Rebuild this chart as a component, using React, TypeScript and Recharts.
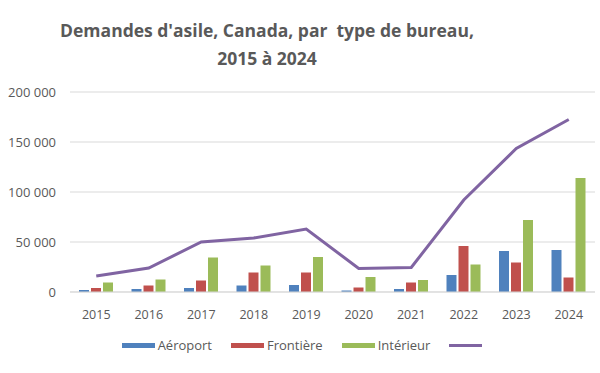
import React from "react";
import {
  ComposedChart,
  Bar,
  Line,
  XAxis,
  YAxis,
  CartesianGrid,
  Legend,
} from "recharts";

// Demandes d'asile par type de bureau
const years = ["2015", "2016", "2017", "2018", "2019", "2020", "2021", "2022", "2023", "2024"];
const aeroport = [2000, 3000, 4000, 6500, 7000, 1500, 3000, 17000, 41000, 42000];
const frontiere = [4000, 6500, 11500, 19500, 19500, 4500, 9500, 46000, 29500, 14500];
const interieur = [9500, 12500, 34500, 26500, 35000, 15000, 12000, 27500, 72000, 114000];
const total = [16000, 24000, 50000, 54000, 63000, 23500, 24500, 92000, 143500, 172500];
const yTicks = [0, 50000, 100000, 150000, 200000];

const data = years.map((year, i) => ({
  year,
  aeroport: aeroport[i],
  frontiere: frontiere[i],
  interieur: interieur[i],
  total: total[i],
}));

const GRAY = "#595959";
const FONT = "'Open Sans', sans-serif";

const fmt = (v: number) => String(v).replace(/\B(?=(\d{3})+(?!\d))/g, " ");

const legendItems = [
  { label: "Aéroport", color: "#4F81BD", type: "rect" },
  { label: "Frontière", color: "#C0504D", type: "rect" },
  { label: "Intérieur", color: "#9BBB59", type: "rect" },
  { label: "", color: "#8064A2", type: "line" },
];

function ChartLegend() {
  return (
    <div style={{ display: "flex", justifyContent: "center", alignItems: "center", paddingLeft: 26, fontFamily: FONT, fontSize: 13, color: GRAY }}>
      {legendItems.map((it) => (
        <div key={it.color} style={{ display: "flex", alignItems: "center", marginRight: 19 }}>
          <span
            style={{
              display: "inline-block",
              width: 33,
              height: it.type === "rect" ? 5 : 3,
              background: it.color,
              marginRight: 3,
            }}
          />
          {it.label && <span>{it.label}</span>}
        </div>
      ))}
    </div>
  );
}

export default function App() {
  return (
    <div style={{ position: "absolute", left: 0, top: 0, width: 600, height: 373, background: "#fff" }}>
      <div
        style={{
          position: "absolute",
          left: 0,
          top: 16,
          width: 534,
          textAlign: "center",
          fontFamily: FONT,
          fontWeight: 700,
          fontSize: 17.5,
          lineHeight: "28px",
          color: GRAY,
        }}
      >
        Demandes d'asile, Canada, par&nbsp; type de bureau,
        <br />
        2015 à 2024
      </div>
      <ComposedChart
        width={600}
        height={373}
        data={data}
        margin={{ top: 92, right: 5, bottom: 33, left: 0 }}
        barSize={10}
        barGap={2}
        style={{ position: "absolute", left: 0, top: 0 }}
      >
        <CartesianGrid vertical={false} stroke="#d9d9d9" />
        <XAxis
          dataKey="year"
          height={30}
          tickLine={false}
          axisLine={{ stroke: "#d9d9d9" }}
          tick={{ fill: GRAY, fontSize: 12.5, fontFamily: FONT }}
          tickMargin={12}
        />
        <YAxis
          width={70}
          domain={[0, 200000]}
          ticks={yTicks}
          tickFormatter={fmt}
          axisLine={false}
          tickLine={false}
          tickSize={0}
          tickMargin={14}
          tick={{ fill: GRAY, fontSize: 13, fontFamily: FONT }}
        />
        <Bar dataKey="aeroport" name="Aéroport" fill="#4F81BD" isAnimationActive={false} />
        <Bar dataKey="frontiere" name="Frontière" fill="#C0504D" isAnimationActive={false} />
        <Bar dataKey="interieur" name="Intérieur" fill="#9BBB59" isAnimationActive={false} />
        <Line
          dataKey="total"
          stroke="#8064A2"
          strokeWidth={3}
          dot={false}
          activeDot={false}
          type="linear"
          isAnimationActive={false}
        />
        <Legend
          content={<ChartLegend />}
          wrapperStyle={{ position: "absolute", left: 0, top: 336, width: 600 }}
        />
      </ComposedChart>
    </div>
  );
}
